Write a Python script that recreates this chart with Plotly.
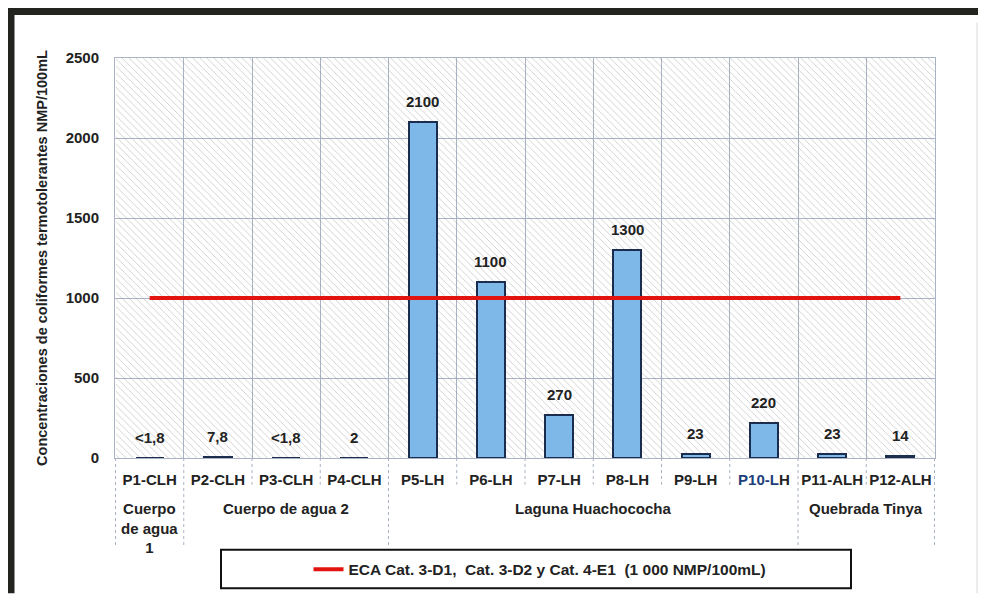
import plotly.graph_objects as go

# data
puntos = ['P1-CLH', 'P2-CLH', 'P3-CLH', 'P4-CLH', 'P5-LH', 'P6-LH',
          'P7-LH', 'P8-LH', 'P9-LH', 'P10-LH', 'P11-ALH', 'P12-ALH']
valores = [1.8, 7.8, 1.8, 2, 2100, 1100, 270, 1300, 23, 220, 23, 14]
etiquetas = ['<1,8', '7,8', '<1,8', '2', '2100', '1100', '270', '1300',
             '23', '220', '23', '14']
grupos = ['Cuerpo<br>de agua<br>1', 'Cuerpo de agua 2', 'Laguna Huachococha', 'Quebrada Tinya']
grupo_desde = [0, 1, 4, 10]
grupo_hasta = [0, 3, 9, 11]
eca_valor = 1000
eca_nombre = 'ECA Cat. 3-D1,  Cat. 3-D2 y Cat. 4-E1  (1 000 NMP/100mL)'
y_max = 2500

FONT = 'Arial, Liberation Sans, sans-serif'
OFF = 8  # page body margin
W, H = 986 - OFF, 598 - OFF
L, R, T, B = 115 - OFF, 51, 58 - OFF, 135


def px_x(p):
    # window pixel -> paper x
    return (p - OFF - L) / (W - L - R)


def px_y(p):
    # window pixel -> paper y
    return (H - B - (p - OFF)) / (H - T - B)


fig = go.Figure()

# hatched chart background
fig.add_trace(go.Bar(
    x=puntos, y=[y_max] * len(puntos), width=1,
    marker=dict(color='rgba(255,255,255,0)', line=dict(width=0),
                pattern=dict(shape='\\', fgcolor='#8f8f8f', bgcolor='rgba(255,255,255,0)',
                             size=5, solidity=0.16)),
    showlegend=False, hoverinfo='skip'
))

fig.add_trace(go.Bar(
    x=puntos, y=valores, width=0.41,
    marker=dict(color='#7db8e8', line=dict(color='#1b2d4f', width=2)),
    showlegend=False, name='NMP/100mL'
))

fig.add_trace(go.Scatter(
    x=puntos, y=[eca_valor] * len(puntos), mode='lines',
    line=dict(color='#e3140f', width=4), name=eca_nombre
))

# value labels above the bars
for p, v, t in zip(puntos, valores, etiquetas):
    fig.add_annotation(x=p, y=v, text=t, showarrow=False, yanchor='bottom', yshift=10,
                       font=dict(family=FONT, size=15, color='#222'))

# group labels under the tick labels
for g, a, b in zip(grupos, grupo_desde, grupo_hasta):
    fig.add_annotation(x=(a + b) / 2, y=px_y(504), yref='paper', text=g, showarrow=False,
                       yanchor='top', font=dict(family=FONT, size=15, color='#222'))

shapes = []
# separators in the tick label / group area
for i in range(len(puntos) + 1):
    edge = i - 0.5
    long_line = (i == 0 or i == len(puntos) or (i in grupo_desde))
    shapes.append(dict(type='line', xref='x', yref='paper', x0=edge, x1=edge,
                       y0=0, y1=px_y(553 if long_line else 490),
                       line=dict(color='#a9b3c3', width=1, dash='dot')))
# legend box
shapes.append(dict(type='rect', xref='paper', yref='paper',
                   x0=px_x(221), x1=px_x(851), y0=px_y(556), y1=px_y(595),
                   line=dict(color='#111', width=2), fillcolor='rgba(0,0,0,0)'))
# outer frame of the figure
shapes.append(dict(type='line', xref='paper', yref='paper',
                   x0=px_x(8), x1=px_x(990), y0=px_y(11), y1=px_y(11),
                   line=dict(color='#23231f', width=7)))
shapes.append(dict(type='line', xref='paper', yref='paper',
                   x0=px_x(11), x1=px_x(11), y0=px_y(8), y1=px_y(600),
                   line=dict(color='#23231f', width=7)))
shapes.append(dict(type='line', xref='paper', yref='paper',
                   x0=px_x(977), x1=px_x(977), y0=px_y(22), y1=px_y(600),
                   line=dict(color='#ececec', width=2)))

ticktext = [("<span style='color:#1d3f7a'>P10-L</span>H" if p == 'P10-LH' else p) for p in puntos]

fig.update_layout(
    width=W, height=H,
    margin=dict(l=L, r=R, t=T, b=B),
    paper_bgcolor='white', plot_bgcolor='white',
    barmode='overlay', bargap=0,
    font=dict(family=FONT, color='#222'),
    shapes=shapes,
    showlegend=True,
    legend=dict(orientation='h', x=px_x(540), xanchor='center', y=px_y(576), yanchor='middle',
                bgcolor='rgba(0,0,0,0)', font=dict(family=FONT, size=15.5, color='#222')),
    xaxis=dict(tickvals=puntos, ticktext=ticktext, tickson='boundaries', showgrid=True,
               gridcolor='#a9b3c3', gridwidth=1, showline=True, linecolor='#a9b3c3',
               mirror=True, ticks='', ticklabelstandoff=8, tickangle=0,
               tickfont=dict(family=FONT, size=15, color='#222')),
    yaxis=dict(range=[0, y_max], dtick=500, showgrid=True, gridcolor='#a9b3c3', gridwidth=1,
               zeroline=False, showline=True, linecolor='#a9b3c3', mirror=True,
               ticks='', ticklabelstandoff=12,
               tickfont=dict(family=FONT, size=15, color='#222'),
               title=dict(text='Concentraciones de coliformes termotolerantes NMP/100mL',
                          standoff=14, font=dict(family=FONT, size=14.5, color='#222'))),
)

# bold text everywhere like the source
fig.update_layout(font=dict(weight='bold'))
fig.update_xaxes(tickfont_weight='bold')
fig.update_yaxes(tickfont_weight='bold', title_font_weight='bold')
fig.update_layout(legend_font_weight='bold')
for a in fig.layout.annotations:
    a.font.weight = 'bold'

fig.write_html("out.html")
